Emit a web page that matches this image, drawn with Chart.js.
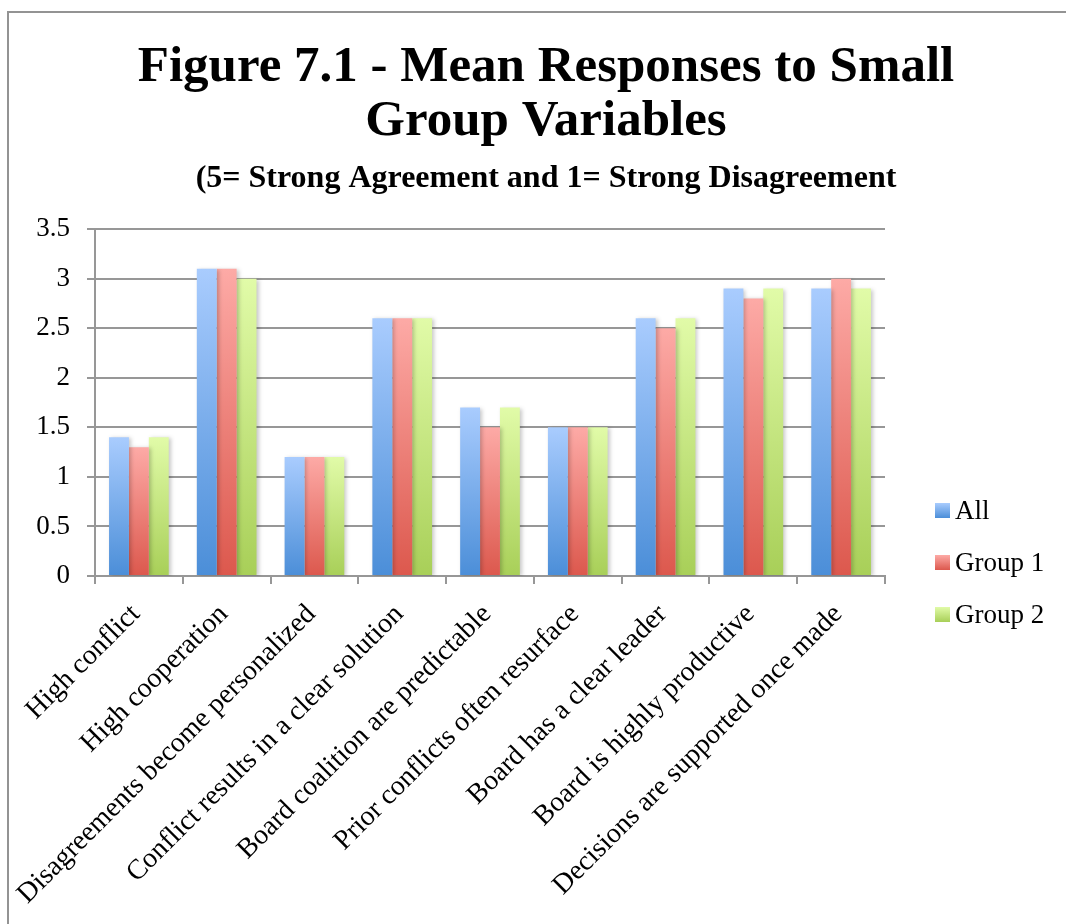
<!DOCTYPE html>
<html><head><meta charset="utf-8">
<script src="https://cdn.jsdelivr.net/npm/chart.js@4"></script>
<style>
html,body{margin:0;padding:0;background:#fff;overflow:hidden;width:1066px;height:924px}
#frame{position:absolute;left:7px;top:11px;width:1100px;height:960px;border-left:2px solid #939393;border-top:2px solid #939393;}
#wrap{position:absolute;left:9px;top:13px;width:1074px;height:911px}
</style></head><body>
<div id="frame"></div>
<div id="wrap"><canvas id="c" width="1074" height="911"></canvas></div>
<script>
const titleLines = ["Figure 7.1 - Mean Responses to Small", "Group Variables"];
const subtitleText = "(5= Strong Agreement and 1= Strong Disagreement";
const categories = ["High conflict", "High cooperation", "Disagreements become personalized",
  "Conflict results in a clear solution", "Board coalition are predictable",
  "Prior conflicts often resurface", "Board has a clear leader",
  "Board is highly productive", "Decisions are supported once made"];
const seriesNames = ["All", "Group 1", "Group 2"];
const allValues    = [1.4, 3.1, 1.2, 2.6, 1.7, 1.5, 2.6, 2.9, 2.9];
const group1Values = [1.3, 3.1, 1.2, 2.6, 1.5, 1.5, 2.5, 2.8, 3.0];
const group2Values = [1.4, 3.0, 1.2, 2.6, 1.7, 1.5, 2.6, 2.9, 2.9];
const yMin = 0, yMax = 3.5, yStep = 0.5;
const yTickLabels = ["0", "0.5", "1", "1.5", "2", "2.5", "3", "3.5"];
const topColors = ["#a9ccfe", "#fdaaa6", "#e1fba8"];
const bottomColors = ["#4b8ed8", "#dc584d", "#a8cf58"];

const FONT = '"Liberation Serif", "Times New Roman", serif';
const GRID = '#979797';

function barGradient(i) {
  return (ctx) => {
    const chart = ctx.chart;
    if (!chart.chartArea || ctx.type !== 'data' || !ctx.parsed) return bottomColors[i];
    const ys = chart.scales.y;
    const top = ys.getPixelForValue(ctx.parsed.y);
    const base = ys.getPixelForValue(0);
    const g = chart.ctx.createLinearGradient(0, top, 0, base);
    g.addColorStop(0, topColors[i]);
    g.addColorStop(1, bottomColors[i]);
    return g;
  };
}

const seriesValues = [allValues, group1Values, group2Values];
const datasets = seriesNames.map((name, i) => ({
  label: name,
  data: seriesValues[i],
  backgroundColor: barGradient(i),
  borderWidth: 0,
  barPercentage: 1.0,
  categoryPercentage: 0.68
}));

const shadowPlugin = {
  id: 'barShadow',
  beforeDatasetsDraw(chart) {
    const c = chart.ctx; c.save();
    c.shadowColor = 'rgba(0,0,0,0.22)'; c.shadowBlur = 4; c.shadowOffsetX = 2; c.shadowOffsetY = 1;
  },
  afterDatasetsDraw(chart) { chart.ctx.restore(); }
};

const sideLegend = {
  id: 'sideLegend',
  afterDraw(chart, args, opts) {
    const c = chart.ctx;
    c.save();
    chart.data.datasets.forEach((ds, i) => {
      const y = opts.top + i * opts.spacing;
      const g = c.createLinearGradient(0, y, 0, y + opts.box);
      g.addColorStop(0, topColors[i]); g.addColorStop(1, bottomColors[i]);
      c.fillStyle = g;
      c.fillRect(opts.x, y, opts.box, opts.box);
      c.fillStyle = '#000';
      c.font = opts.fontSize + 'px ' + FONT;
      c.textBaseline = 'middle';
      c.textAlign = 'left';
      c.fillText(ds.label, opts.x + opts.box + opts.gap, y + opts.box / 2 + 1);
    });
    c.restore();
  }
};

new Chart(document.getElementById('c'), {
  type: 'bar',
  data: { labels: categories, datasets },
  plugins: [shadowPlugin, sideLegend],
  options: {
    responsive: false,
    animation: false,
    layout: { padding: 0 },
    plugins: {
      legend: { display: false },
      tooltip: { enabled: false },
      sideLegend: { x: 926, top: 490, spacing: 52, box: 15, gap: 5, fontSize: 27 },
      title: {
        display: true, text: titleLines, color: '#000',
        font: { family: FONT, size: 51, weight: 'bold', lineHeight: 1.06 },
        padding: { top: 28, bottom: 0 }
      },
      subtitle: {
        display: true, text: subtitleText, color: '#000',
        font: { family: FONT, size: 32, weight: 'bold', lineHeight: 1.2 },
        padding: { top: 10, bottom: 31.6 }
      }
    },
    scales: {
      x: {
        grid: { display: true, drawOnChartArea: false, drawTicks: true, tickLength: 8, color: GRID, lineWidth: 2, offset: true },
        border: { display: true, color: GRID, width: 2 },
        ticks: { font: { family: FONT, size: 28 }, color: '#000', minRotation: 45, maxRotation: 45, autoSkip: false, padding: 14, labelOffset: -3 },
        afterFit(s) { s.height = 348; s.paddingRight = 198; }
      },
      y: {
        min: yMin, max: yMax,
        ticks: {
          stepSize: yStep, font: { family: FONT, size: 27 }, color: '#000', padding: 17,
          callback: (v, i) => yTickLabels[i]
        },
        grid: { color: GRID, lineWidth: 2, tickLength: 8, drawTicks: true },
        border: { display: true, color: GRID, width: 2 },
        afterFit(s) { s.width = 86; }
      }
    }
  }
});
</script>
</body></html>
